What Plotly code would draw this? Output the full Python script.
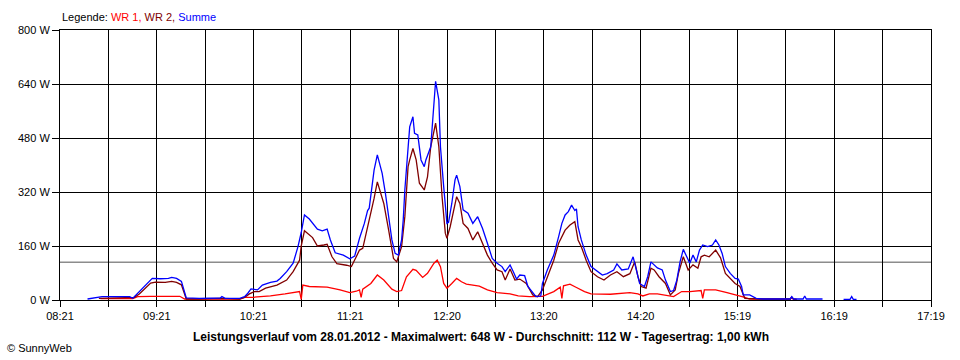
import plotly.graph_objects as go

# ---------------- data ----------------
x_tick_labels = ["08:21", "09:21", "10:21", "11:21", "12:20", "13:20", "14:20", "15:19", "16:19", "17:19"]
y_tick_values = [0, 160, 320, 480, 640, 800]
average_w = 112

wr1_times = ["08:46", "09:06", "09:09", "09:17", "09:35", "09:38", "10:12", "10:15", "10:20", "10:31",
             "10:40", "10:49", "10:50", "10:51", "10:55", "11:06", "11:14", "11:20", "11:24", "11:26",
             "11:27", "11:28", "11:33", "11:37", "11:41", "11:46", "11:49", "11:52", "11:55", "11:59",
             "12:01", "12:05", "12:08", "12:12", "12:14", "12:16", "12:18", "12:20", "12:23", "12:26",
             "12:29", "12:32", "12:40", "12:45", "12:51", "12:59", "13:04", "13:11", "13:19", "13:26",
             "13:30", "13:31", "13:32", "13:36", "13:40", "13:45", "13:49", "14:01", "14:13", "14:18",
             "14:21", "14:25", "14:30", "14:35", "14:40", "14:45", "14:50", "14:57", "14:58", "14:59",
             "15:06", "15:13", "15:19", "15:24", "15:27", "15:40", "15:52", "15:53", "15:54", "15:56"]
wr1_values = [4, 4, 10, 11, 11, 3, 3, 8, 8, 12,
              18, 25, 2, 44, 40, 38, 30, 22, 26, 30,
              8, 32, 49, 74, 59, 32, 25, 28, 69, 91,
              88, 67, 79, 109, 118, 99, 49, 35, 49, 64,
              54, 47, 41, 30, 22, 18, 12, 10, 11, 25,
              38, 5, 42, 47, 37, 25, 18, 17, 22, 18,
              12, 18, 18, 15, 10, 25, 25, 28, 5, 30,
              30, 22, 15, 8, 3, 2, 2, 8, 2, 2]

wr2_times = ["08:45", "09:04", "09:07", "09:10", "09:14", "09:17", "09:20", "09:26", "09:30", "09:33",
             "09:36", "09:38", "09:39", "09:47", "10:00", "10:12", "10:15", "10:18", "10:21", "10:24",
             "10:28", "10:35", "10:41", "10:45", "10:49", "10:50", "10:52", "10:57", "11:00", "11:04",
             "11:06", "11:09", "11:12", "11:18", "11:21", "11:24", "11:26", "11:28", "11:31", "11:33",
             "11:35", "11:37", "11:41", "11:44", "11:47", "11:49", "11:52", "11:54", "11:55", "11:56",
             "11:57", "11:59", "12:01", "12:03", "12:06", "12:08", "12:10", "12:13", "12:15", "12:17",
             "12:19", "12:20", "12:22", "12:24", "12:26", "12:28", "12:30", "12:33", "12:36", "12:39",
             "12:41", "12:45", "12:48", "12:51", "12:54", "12:56", "12:59", "13:02", "13:05", "13:09",
             "13:13", "13:16", "13:19", "13:22", "13:26", "13:29", "13:33", "13:36", "13:39", "13:41",
             "13:43", "13:46", "13:49", "13:53", "13:57", "14:01", "14:05", "14:09", "14:13", "14:16",
             "14:18", "14:20", "14:23", "14:26", "14:28", "14:31", "14:35", "14:38", "14:41", "14:43",
             "14:46", "14:49", "14:52", "14:55", "14:57", "14:59", "15:02", "15:06", "15:09", "15:12",
             "15:15", "15:18", "15:21", "15:24", "15:33", "15:52", "15:53", "15:54", "15:56"]
wr2_values = [5, 6, 8, 18, 35, 50, 53, 52, 55, 52,
              45, 20, 3, 3, 5, 3, 8, 18, 25, 25,
              35, 44, 59, 84, 118, 160, 205, 185, 160, 163,
              165, 128, 108, 103, 99, 128, 148, 153, 217, 250,
              301, 350, 286, 207, 123, 113, 158, 247, 326, 395,
              415, 449, 415, 346, 326, 365, 454, 524, 454, 306,
              198, 183, 217, 267, 306, 286, 227, 212, 178, 202,
              178, 133, 109, 89, 84, 59, 92, 59, 62, 49,
              15, 10, 30, 69, 118, 168, 207, 222, 232, 178,
              158, 118, 84, 69, 59, 74, 84, 69, 78, 113,
              69, 40, 35, 94, 89, 69, 49, 15, 30, 79,
              128, 89, 104, 94, 128, 133, 128, 148, 125, 79,
              64, 49, 40, 5, 3, 3, 8, 3, 2]

sum_times = ["08:38", "08:41", "08:47", "08:55", "09:04", "09:06", "09:07", "09:10", "09:14", "09:17",
             "09:18", "09:23", "09:28", "09:30", "09:33", "09:36", "09:38", "09:39", "09:47", "10:00",
             "10:01", "10:03", "10:12", "10:15", "10:17", "10:19", "10:23", "10:26", "10:31", "10:35",
             "10:37", "10:41", "10:45", "10:48", "10:50", "10:52", "10:55", "10:57", "11:00", "11:03",
             "11:06", "11:08", "11:11", "11:16", "11:20", "11:23", "11:26", "11:29", "11:31", "11:32",
             "11:35", "11:37", "11:40", "11:42", "11:44", "11:46", "11:48", "11:50", "11:52", "11:53",
             "11:54", "11:55", "11:57", "11:59", "12:00", "12:02", "12:04", "12:06", "12:07", "12:10",
             "12:12", "12:13", "12:15", "12:16", "12:18", "12:20", "12:21", "12:23", "12:25", "12:26",
             "12:28", "12:30", "12:33", "12:36", "12:39", "12:42", "12:45", "12:48", "12:51", "12:54",
             "12:56", "12:59", "13:01", "13:03", "13:05", "13:08", "13:10", "13:13", "13:15", "13:18",
             "13:19", "13:22", "13:26", "13:29", "13:31", "13:33", "13:35", "13:37", "13:39", "13:40",
             "13:41", "13:43", "13:46", "13:49", "13:53", "13:56", "13:59", "14:03", "14:05", "14:08",
             "14:12", "14:15", "14:17", "14:19", "14:22", "14:24", "14:26", "14:30", "14:33", "14:35",
             "14:38", "14:40", "14:42", "14:44", "14:46", "14:48", "14:50", "14:52", "14:54", "14:56",
             "14:58", "15:01", "15:04", "15:06", "15:08", "15:10", "15:12", "15:15", "15:18", "15:20",
             "15:22", "15:23", "15:27", "15:31", "15:35", "15:52", "15:53", "15:54", "16:00", "16:01",
             "16:02", "16:12", None, "16:25", "16:29", "16:30", "16:31", "16:33"]
sum_values = [3, 5, 10, 10, 10, 5, 10, 25, 45, 58,
              64, 63, 64, 67, 64, 55, 25, 6, 5, 6,
              10, 5, 5, 10, 20, 33, 30, 44, 52, 56,
              64, 84, 109, 158, 200, 252, 240, 227, 210, 205,
              210, 178, 140, 133, 122, 130, 183, 227, 265, 272,
              385, 430, 375, 316, 247, 178, 138, 133, 178, 237,
              326, 385, 513, 543, 494, 489, 415, 395, 415, 454,
              602, 648, 593, 454, 336, 227, 230, 286, 356, 370,
              336, 267, 257, 227, 247, 212, 168, 123, 109, 99,
              84, 104, 84, 62, 74, 72, 40, 20, 10, 12,
              49, 89, 133, 188, 227, 252, 262, 281, 265, 270,
              217, 178, 133, 99, 84, 74, 78, 89, 107, 89,
              92, 128, 89, 49, 40, 69, 113, 95, 89, 59,
              25, 28, 59, 113, 150, 128, 109, 133, 113, 148,
              163, 158, 163, 178, 163, 138, 99, 79, 64, 62,
              40, 15, 15, 5, 3, 3, 10, 3, 3, 12,
              3, 3, None, 2, 2, 10, 2, 2]


def to_min(t):
    if t is None:
        return None
    h, m = t.split(":")
    return int(h) * 60 + int(m)


x_start = to_min(x_tick_labels[0])
x_end = to_min(x_tick_labels[-1])
n_grid = 18
grid_vals = [x_start + i * (x_end - x_start) / n_grid for i in range(n_grid + 1)]
grid_text = [x_tick_labels[i // 2] if i % 2 == 0 else "" for i in range(n_grid + 1)]

fig = go.Figure()
fig.add_trace(go.Scatter(x=[to_min(t) for t in wr1_times], y=wr1_values, mode="lines",
                         line=dict(color="#ff0000", width=1.3), name="WR 1", connectgaps=False))
fig.add_trace(go.Scatter(x=[to_min(t) for t in wr2_times], y=wr2_values, mode="lines",
                         line=dict(color="#800000", width=1.3), name="WR 2", connectgaps=False))
fig.add_trace(go.Scatter(x=[to_min(t) for t in sum_times], y=sum_values, mode="lines",
                         line=dict(color="#0000ff", width=1.3), name="Summe", connectgaps=False))

fig.add_shape(type="line", xref="paper", x0=0, x1=1, yref="y", y0=average_w, y1=average_w,
              line=dict(color="#8c8c8c", width=1.5), layer="below")

font = dict(family="Liberation Sans, Arial, sans-serif", size=11, color="black")

fig.update_layout(
    width=960, height=360,
    margin=dict(l=60, r=29, t=30, b=60),
    paper_bgcolor="white", plot_bgcolor="white",
    showlegend=False,
    font=font,
    hovermode=False,
    xaxis=dict(range=[x_start, x_end], tickmode="array", tickvals=grid_vals, ticktext=grid_text,
               showgrid=True, gridcolor="black", gridwidth=1, zeroline=False,
               showline=True, linecolor="black", linewidth=1, mirror=True,
               ticks="outside", ticklen=6, tickcolor="black", tickfont=font),
    yaxis=dict(range=[0, 800], tickmode="array", tickvals=y_tick_values,
               ticktext=[f"{v} W" for v in y_tick_values],
               showgrid=True, gridcolor="black", gridwidth=1, zeroline=False,
               showline=True, linecolor="black", linewidth=1, mirror=True,
               ticks="outside", ticklen=7, tickcolor="black", tickfont=font),
)

fig.add_annotation(xref="paper", yref="paper", x=0, y=(300 - 17) / 270, xanchor="left", yanchor="middle",
                   showarrow=False, font=font,
                   text="Legende: <span style='color:#ff0000'>WR 1,</span> "
                        "<span style='color:#800000'>WR 2,</span> "
                        "<span style='color:#0000ff'>Summe</span>")
fig.add_annotation(xref="paper", yref="paper", x=(480.5 - 60) / 871, y=(300 - 337) / 270,
                   xanchor="center", yanchor="middle", showarrow=False,
                   font=dict(family="Liberation Sans, Arial, sans-serif", size=12, color="black"),
                   text="<b>Leistungsverlauf vom 28.01.2012 - Maximalwert: 648 W - Durchschnitt: 112 W - "
                        "Tagesertrag: 1,00 kWh</b>")
fig.add_annotation(xref="paper", yref="paper", x=(5 - 60) / 871, y=(300 - 348) / 270,
                   xanchor="left", yanchor="middle", showarrow=False, font=font,
                   text="© SunnyWeb")

fig.write_html("out.html", config={"displayModeBar": False},
               post_script="document.body.style.margin='0px';document.body.style.padding='0px';")
